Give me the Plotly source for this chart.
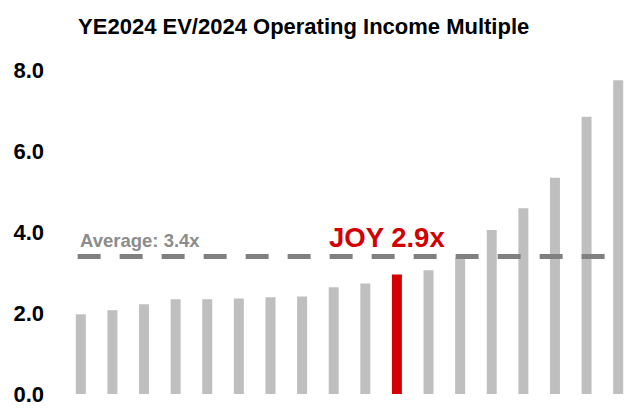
import plotly.graph_objects as go

# ---- data ----
companies = ["Peer A", "Peer B", "Peer C", "Peer D", "Peer E", "Peer F", "Peer G", "Peer H",
             "Peer I", "Peer J", "JOY", "Peer K", "Peer L", "Peer M", "Peer N", "Peer O",
             "Peer P", "Peer Q"]
multiples = [1.97, 2.07, 2.22, 2.34, 2.34, 2.36, 2.39, 2.41, 2.64, 2.73, 2.95, 3.06,
             3.36, 4.05, 4.59, 5.34, 6.85, 7.75]
highlight = "JOY"
joy_label = "JOY 2.9x"
average = 3.4
average_label = "Average: 3.4x"
title_text = "YE2024 EV/2024 Operating Income Multiple"
y_ticks = [0, 2, 4, 6, 8]

GREY = "#BFBFBF"
RED = "#D20000"
FONT = "Liberation Sans, Arial, sans-serif"
OFF = 8  # browser body margin offset

colors = [RED if c == highlight else GREY for c in companies]
idx = list(range(len(companies)))

fig = go.Figure()
fig.add_trace(go.Bar(x=idx, y=multiples, marker=dict(color=colors, line=dict(width=0)),
                     hovertext=companies, showlegend=False))

# average dashed line
fig.add_shape(type="line", xref="x", yref="y", x0=-0.1, x1=16.6, y0=average, y1=average,
              line=dict(color="#808080", width=5, dash="23px,19px"))

fig.add_annotation(x=-0.1, y=average, xref="x", yref="y", text="<b>" + average_label + "</b>",
                   showarrow=False, xanchor="left", yanchor="middle", yshift=16,
                   font=dict(family=FONT, size=18.5, color="#8C8C8C"))
fig.add_annotation(x=companies.index(highlight), y=average, xref="x", yref="y",
                   text="<b>" + joy_label + "</b>", showarrow=False,
                   xanchor="center", yanchor="middle", yshift=19, xshift=-10,
                   font=dict(family=FONT, size=27.5, color=RED))

fig.update_layout(
    width=634, height=411,
    margin=dict(l=65 - OFF, r=OFF, t=54 - OFF, b=17 + OFF, autoexpand=False),
    plot_bgcolor="white", paper_bgcolor="white",
    bargap=0.684,
    title=dict(text="<b>" + title_text + "</b>", xref="container", yref="container",
               x=(303.7 - OFF) / 634, xanchor="center",
               y=1 - (26.5 - OFF) / 411, yanchor="middle",
               font=dict(family=FONT, size=22, color="black")),
    xaxis=dict(range=[-0.5, len(companies) - 0.5], showticklabels=False, showgrid=False,
               zeroline=False, showline=False, ticks="", automargin=False),
    yaxis=dict(range=[0, 8.4], tickvals=y_ticks, tickformat=".1f", showgrid=False,
               zeroline=False, showline=False, ticks="", ticklabelstandoff=20, automargin=False,
               tickfont=dict(family=FONT, size=22, color="black", weight="bold")),
)

fig.write_html("out.html")
